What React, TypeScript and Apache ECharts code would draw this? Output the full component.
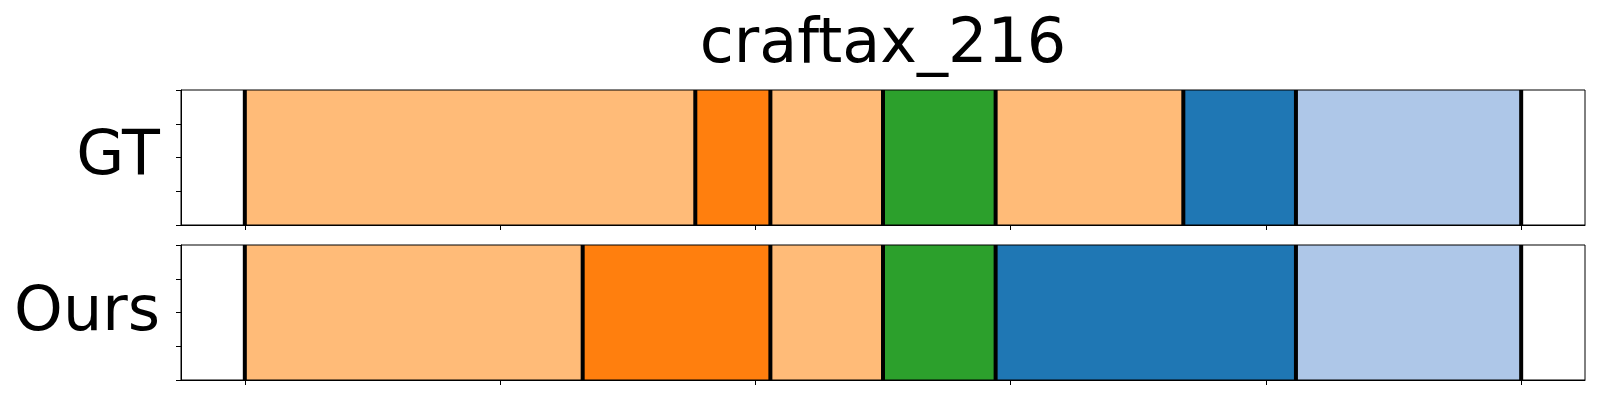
import React, { useEffect, useRef } from "react";
import * as echarts from "echarts";

const titleText = "craftax_216";
const rowLabels = ["GT", "Ours"];
const totalFrames = 34;
const gtBounds = [0, 12, 14, 17, 20, 25, 28, 34];
const gtClasses = ["peach", "orange", "peach", "green", "peach", "blue", "lightblue"];
const oursBounds = [0, 9, 14, 17, 20, 28, 34];
const oursClasses = ["peach", "orange", "peach", "green", "blue", "lightblue"];
const xTickFractions = [0, 0.2, 0.4, 0.6, 0.8, 1.0];
const classColors: Record<string, string> = {
  peach: "#ffbb78",
  orange: "#ff7f0e",
  green: "#2ca02c",
  blue: "#1f77b4",
  lightblue: "#aec7e8",
};

const FONT = "DejaVu Sans";

function buildSegments(bounds: number[]) {
  const out: number[][] = [];
  for (let i = 0; i < bounds.length - 1; i++) {
    out.push([bounds[i] / totalFrames, bounds[i + 1] / totalFrames]);
  }
  return out;
}

export default function App() {
  const ref = useRef<HTMLDivElement>(null);
  useEffect(() => {
    if (!ref.current) return;
    const chart = echarts.init(ref.current, undefined, { renderer: "svg" });
    const rows = [
      { bounds: gtBounds, classes: gtClasses },
      { bounds: oursBounds, classes: oursClasses },
    ];
    const gridTops = [90, 245];
    const grids = gridTops.map((t) => ({
      left: 181,
      top: t,
      width: 1404,
      height: 135,
      show: true,
      borderColor: "#000",
      borderWidth: 1,
      backgroundColor: "transparent",
      z: 10,
    }));
    const xAxes = rows.map((_, i) => ({
      type: "value",
      gridIndex: i,
      min: -0.05,
      max: 1.05,
      z: 10,
      axisLine: { show: true, onZero: false, lineStyle: { color: "#000", width: 1 } },
      axisTick: {
        show: true,
        customValues: xTickFractions,
        length: 5,
        inside: false,
        lineStyle: { color: "#000", width: 1 },
      },
      axisLabel: { show: false },
      splitLine: { show: false },
    }));
    const yAxes = rows.map((_, i) => ({
      type: "value",
      gridIndex: i,
      min: 0,
      max: 1,
      interval: 0.25,
      z: 10,
      axisLine: { show: true, onZero: false, lineStyle: { color: "#000", width: 1 } },
      axisTick: { show: true, length: 5, inside: false, lineStyle: { color: "#000", width: 1 } },
      axisLabel: { show: false },
      splitLine: { show: false },
    }));
    const series: any[] = [];
    rows.forEach((row, i) => {
      const segs = buildSegments(row.bounds);
      series.push({
        type: "custom",
        xAxisIndex: i,
        yAxisIndex: i,
        z: 2,
        encode: { x: [0, 1] },
        data: segs,
        renderItem: (params: any, api: any) => {
          const p0 = api.coord([api.value(0), 1]);
          const p1 = api.coord([api.value(1), 0]);
          return {
            type: "rect",
            shape: { x: p0[0], y: p0[1], width: p1[0] - p0[0], height: p1[1] - p0[1] },
            style: { fill: classColors[row.classes[params.dataIndex]] },
          };
        },
      });
      series.push({
        type: "custom",
        xAxisIndex: i,
        yAxisIndex: i,
        z: 3,
        encode: { x: 0 },
        data: row.bounds.map((b) => [b / totalFrames]),
        renderItem: (params: any, api: any) => {
          const p0 = api.coord([api.value(0), 0]);
          const p1 = api.coord([api.value(0), 1]);
          return {
            type: "line",
            shape: { x1: p0[0], y1: p0[1], x2: p1[0], y2: p1[1] },
            style: { stroke: "#000", lineWidth: 4 },
          };
        },
      });
    });
    chart.setOption({
      animation: false,
      backgroundColor: "#fff",
      grid: grids,
      xAxis: xAxes,
      yAxis: yAxes,
      series,
      graphic: [
        {
          type: "text",
          x: 883,
          y: 40,
          style: {
            text: titleText,
            fontSize: 62,
            fontFamily: FONT,
            fill: "#000",
            align: "center",
            verticalAlign: "middle",
          },
        },
        {
          type: "text",
          x: 160,
          y: 152,
          style: {
            text: rowLabels[0],
            fontSize: 62,
            fontFamily: FONT,
            fill: "#000",
            align: "right",
            verticalAlign: "middle",
          },
        },
        {
          type: "text",
          x: 160,
          y: 308,
          style: {
            text: rowLabels[1],
            fontSize: 62,
            fontFamily: FONT,
            fill: "#000",
            align: "right",
            verticalAlign: "middle",
          },
        },
      ],
    });
    return () => chart.dispose();
  }, []);
  return (
    <div
      ref={ref}
      style={{ position: "fixed", left: 0, top: 0, width: 1600, height: 400, background: "#fff" }}
    />
  );
}
